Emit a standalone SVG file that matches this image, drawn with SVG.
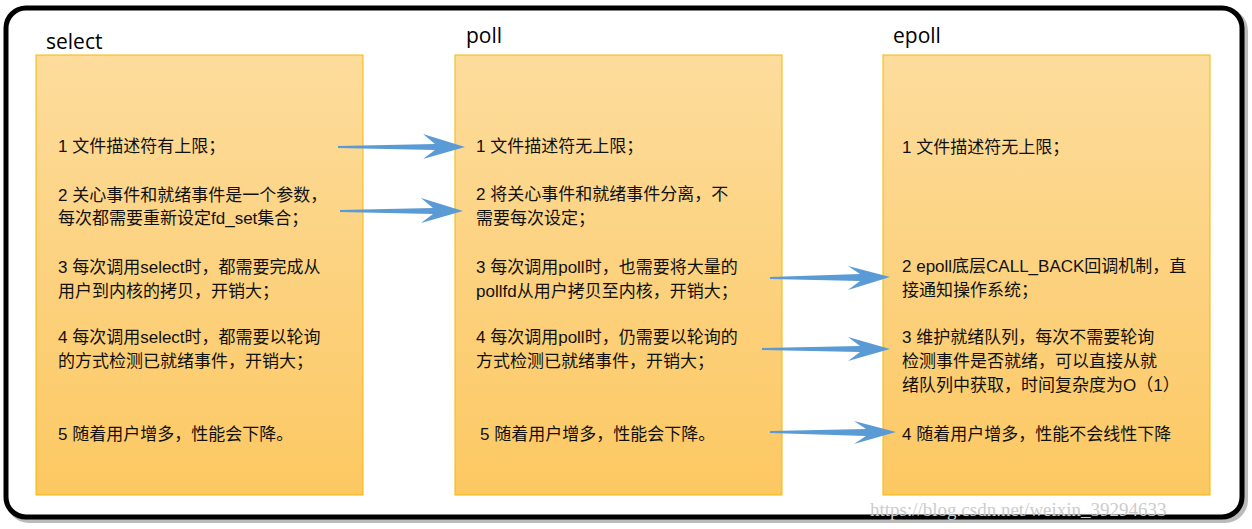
<svg xmlns="http://www.w3.org/2000/svg" width="1252" height="529" viewBox="0 0 1252 529">
<defs>
<linearGradient id="g" x1="0" y1="0" x2="0" y2="1"><stop offset="0" stop-color="#fddc9c"/><stop offset="1" stop-color="#fcc862"/></linearGradient>
<style>
.box{fill:url(#g);stroke:#f5b800;stroke-width:1}
.t{font-family:"Liberation Sans","Noto Sans CJK SC",sans-serif;font-size:17px;fill:#111}
.h{font-family:"Open Sans","Liberation Sans",sans-serif;font-size:21px;fill:#000}
.arr{fill:#5b9bd5}
</style>
</defs>
<rect width="1252" height="529" fill="#fff"/>
<rect x="9" y="11" width="1236" height="509" rx="20" fill="none" stroke="#777" stroke-width="6" opacity="0.5"/>
<rect x="6" y="8" width="1236" height="509" rx="20" fill="#fff" stroke="#000" stroke-width="5"/>
<g id="select">
<text class="h" x="46" y="49">select</text>
<rect class="box" x="36" y="55" width="327" height="440"/>
<text class="t" x="58" y="152">1 文件描述符有上限；</text>
<text class="t" x="58" y="201">2 关心事件和就绪事件是一个参数，</text>
<text class="t" x="58" y="224">每次都需要重新设定fd_set集合；</text>
<text class="t" x="58" y="273">3 每次调用select时，都需要完成从</text>
<text class="t" x="58" y="297">用户到内核的拷贝，开销大；</text>
<text class="t" x="58" y="343">4 每次调用select时，都需要以轮询</text>
<text class="t" x="58" y="367">的方式检测已就绪事件，开销大；</text>
<text class="t" x="58" y="440">5 随着用户增多，性能会下降。</text>
</g>
<g id="poll">
<text class="h" x="466" y="43">poll</text>
<rect class="box" x="455" y="55" width="327" height="440"/>
<text class="t" x="476" y="152">1 文件描述符无上限；</text>
<text class="t" x="476" y="200">2 将关心事件和就绪事件分离，不</text>
<text class="t" x="476" y="224">需要每次设定；</text>
<text class="t" x="476" y="273">3 每次调用poll时，也需要将大量的</text>
<text class="t" x="476" y="297">pollfd从用户拷贝至内核，开销大；</text>
<text class="t" x="476" y="343">4 每次调用poll时，仍需要以轮询的</text>
<text class="t" x="476" y="367">方式检测已就绪事件，开销大；</text>
<text class="t" x="480" y="440">5 随着用户增多，性能会下降。</text>
</g>
<g id="epoll">
<text class="h" x="893" y="43">epoll</text>
<rect class="box" x="883" y="55" width="327" height="440"/>
<text class="t" x="902" y="153">1 文件描述符无上限；</text>
<text class="t" x="902" y="272">2 epoll底层CALL_BACK回调机制，直</text>
<text class="t" x="902" y="296">接通知操作系统；</text>
<text class="t" x="902" y="343">3 维护就绪队列，每次不需要轮询</text>
<text class="t" x="902" y="367">检测事件是否就绪，可以直接从就</text>
<text class="t" x="902" y="391">绪队列中获取，时间复杂度为O（1）</text>
<text class="t" x="902" y="440">4 随着用户增多，性能不会线性下降</text>
</g>
<g id="connectors" class="arr">
<path d="M338,146 L435,144 L423,134 L465,147 L423,159 L435,150 L338,148 Z"/>
<path d="M340,210 L433,208 L421,198 L463,211 L421,223 L433,214 L340,212 Z"/>
<path d="M770,277 L860,274 L848,266 L890,277 L848,290 L860,281 L770,279 Z"/>
<path d="M762,348 L860,346 L848,337 L890,349 L848,361 L860,352 L762,350 Z"/>
<path d="M770,431 L866,429 L854,421 L896,432 L854,444 L866,436 L770,433 Z"/>
</g>
<text x="870" y="516" font-family="Liberation Serif,serif" font-size="19" fill="#ccc">https://blog.csdn.net/weixin_39294633</text>
</svg>
